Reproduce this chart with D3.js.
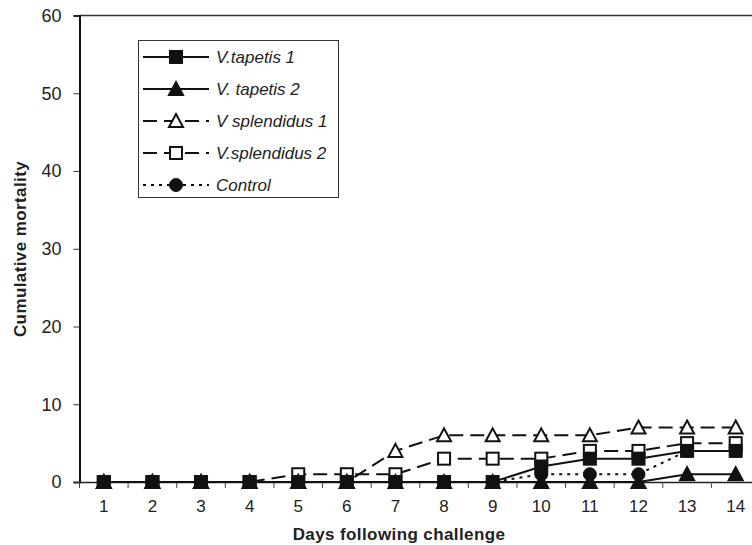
<!DOCTYPE html>
<html>
<head>
<meta charset="utf-8">
<script src="https://cdn.jsdelivr.net/npm/d3@7"></script>
<style>
  body { margin: 0; background: #fff; }
  svg { font-family: "Liberation Sans", Arial, sans-serif; }
</style>
</head>
<body>
<script>
var days = [1, 2, 3, 4, 5, 6, 7, 8, 9, 10, 11, 12, 13, 14]
var yTicks = [0, 10, 20, 30, 40, 50, 60]

var tapetis1 = [0, 0, 0, 0, 0, 0, 0, 0, 0, 2, 3, 3, 4, 4]
var tapetis2 = [0, 0, 0, 0, 0, 0, 0, 0, 0, 0, 0, 0, 1, 1]
var splendidus1 = [0, 0, 0, 0, 0, 0, 4, 6, 6, 6, 6, 7, 7, 7]
var splendidus2 = [0, 0, 0, 0, 1, 1, 1, 3, 3, 3, 4, 4, 5, 5]
var control = [0, 0, 0, 0, 0, 0, 0, 0, 0, 1, 1, 1, 4, 4]

var series = [
  {name: "V.tapetis 1", values: tapetis1, dash: null, marker: "square", fill: "#111"},
  {name: "V. tapetis 2", values: tapetis2, dash: null, marker: "triangle", fill: "#111"},
  {name: "V splendidus 1", values: splendidus1, dash: "14,7", marker: "triangle", fill: "#fff"},
  {name: "V.splendidus 2", values: splendidus2, dash: "14,7", marker: "square", fill: "#fff"},
  {name: "Control", values: control, dash: "3,5", marker: "circle", fill: "#111"}
]
// first series ends up on top
var drawOrder = [4, 3, 2, 1, 0]

var W = 752, H = 545
var svg = d3.select("body").append("svg")
  .attr("width", W).attr("height", H)

var x = d3.scaleBand().domain(days).range([79.5, 760])
var y = d3.scaleLinear().domain([0, 60]).range([482, 15.5])

// top frame line
svg.append("line")
  .attr("x1", 79.5).attr("x2", W).attr("y1", y(60)).attr("y2", y(60))
  .attr("stroke", "#333").attr("stroke-width", 1.5)

// y axis
var yAxis = svg.append("g")
  .attr("transform", "translate(79.5,0)")
  .call(d3.axisLeft(y).tickValues(yTicks).tickSize(6).tickPadding(12))
yAxis.select(".domain").attr("stroke", "#111").attr("stroke-width", 2)
yAxis.selectAll(".tick line").attr("stroke", "#333")
yAxis.selectAll("text").attr("font-size", 18).attr("fill", "#222")
  .attr("font-family", "Liberation Sans, Arial, sans-serif")

// x axis: ticks between categories
var xAxis = svg.append("g")
  .attr("transform", "translate(0," + y(0) + ")")
  .call(d3.axisBottom(x).tickSize(0).tickPadding(18))
xAxis.select(".domain").attr("stroke", "#222").attr("stroke-width", 1.5)
xAxis.selectAll("text").attr("font-size", 17).attr("fill", "#222")
  .attr("font-family", "Liberation Sans, Arial, sans-serif")
xAxis.selectAll(".sep")
  .data(days).enter()
  .append("line")
  .attr("class", "sep")
  .attr("x1", function(d) { return x(d) }).attr("x2", function(d) { return x(d) })
  .attr("y1", 0).attr("y2", 6)
  .attr("stroke", "#444")

// axis titles
svg.append("text")
  .attr("x", 399).attr("y", 540)
  .attr("text-anchor", "middle")
  .attr("font-size", 17).attr("font-weight", "bold").attr("fill", "#222")
  .attr("letter-spacing", 0.4)
  .text("Days following challenge")

svg.append("text")
  .attr("transform", "translate(26,249) rotate(-90)")
  .attr("text-anchor", "middle")
  .attr("font-size", 17).attr("font-weight", "bold").attr("fill", "#222")
  .attr("letter-spacing", 0.4)
  .text("Cumulative mortality")

function drawMarker(g, type, fill, cx, cy) {
  if (type == "square") {
    g.append("rect")
      .attr("x", cx - 6).attr("y", cy - 6).attr("width", 12).attr("height", 12)
      .attr("fill", fill).attr("stroke", "#111").attr("stroke-width", 2)
  } else if (type == "triangle") {
    g.append("path")
      .attr("d", "M" + cx + "," + (cy - 7) + "L" + (cx + 7) + "," + (cy + 6) + "L" + (cx - 7) + "," + (cy + 6) + "Z")
      .attr("fill", fill).attr("stroke", "#111").attr("stroke-width", 2)
  } else {
    g.append("circle")
      .attr("cx", cx).attr("cy", cy).attr("r", 6.5)
      .attr("fill", fill).attr("stroke", "#111").attr("stroke-width", 1)
  }
}

var line = d3.line()
  .x(function(d, i) { return x(days[i]) + x.bandwidth() / 2 })
  .y(function(d) { return y(d) })

var plot = svg.append("g")
drawOrder.forEach(function(k) {
  var s = series[k]
  plot.append("path")
    .datum(s.values)
    .attr("d", line)
    .attr("fill", "none")
    .attr("stroke", "#111")
    .attr("stroke-width", 2)
    .attr("stroke-dasharray", s.dash)
})
drawOrder.forEach(function(k) {
  var s = series[k]
  var g = plot.append("g")
  s.values.forEach(function(v, i) {
    drawMarker(g, s.marker, s.fill, x(days[i]) + x.bandwidth() / 2, y(v))
  })
})

// legend
var leg = svg.append("g")
leg.append("rect")
  .attr("x", 138.5).attr("y", 40.5).attr("width", 200).attr("height", 157)
  .attr("fill", "#fff").attr("stroke", "#333").attr("stroke-width", 1)
series.forEach(function(s, i) {
  var ly = 57 + i * 32
  var g = leg.append("g")
  g.append("line")
    .attr("x1", 143).attr("x2", 209).attr("y1", ly).attr("y2", ly)
    .attr("stroke", "#111").attr("stroke-width", 2)
    .attr("stroke-dasharray", s.dash)
  drawMarker(g, s.marker, s.fill, 176, ly)
  g.append("text")
    .attr("x", 216).attr("y", ly + 6)
    .attr("font-size", 17).attr("font-style", "italic").attr("fill", "#222")
    .text(s.name)
})
</script>
</body>
</html>
